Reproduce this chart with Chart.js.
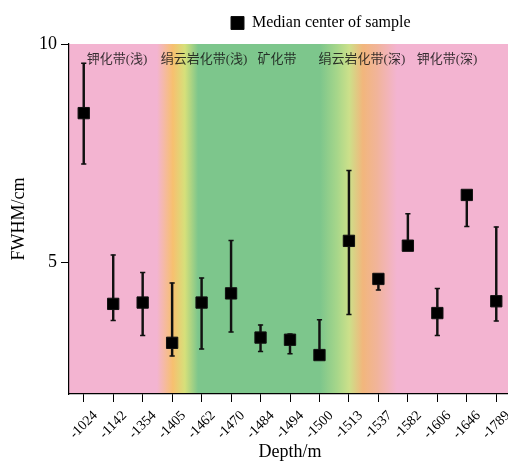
<!DOCTYPE html>
<html>
<head>
<meta charset="utf-8">
<script src="https://cdn.jsdelivr.net/npm/chart.js@4.4.0/dist/chart.umd.min.js"></script>
<style>
  html, body { margin: 0; padding: 0; overflow: hidden; background: #fff; width: 508px; height: 463px; }
  #wrap { width: 511px; height: 463px; }
</style>
</head>
<body>
<div id="wrap"><canvas id="c" width="511" height="463"></canvas></div>
<script>
// Sample depths (m) along the drill hole
const depths = ['-1024', '-1142', '-1354', '-1405', '-1462', '-1470', '-1484', '-1494',
                '-1500', '-1513', '-1537', '-1582', '-1606', '-1646', '-1789'];
// FWHM (cm): median of each sample and the spread around it
const medianFWHM = [8.42, 4.06, 4.09, 3.17, 4.09, 4.30, 3.29, 3.24, 2.89, 5.50, 4.63, 5.39, 3.85, 6.55, 4.12];
const lowerFWHM  = [7.26, 3.68, 3.34, 2.87, 3.03, 3.42, 2.97, 2.92, 2.89, 3.82, 4.38, 5.39, 3.34, 5.83, 3.67];
const upperFWHM  = [9.56, 5.18, 4.78, 4.54, 4.65, 5.51, 3.58, 3.37, 3.70, 7.11, 4.63, 6.12, 4.41, 6.55, 5.82];
const yTicks = [5, 10];
// Alteration zones, shallow to deep
const zoneNames = ['钾化带(浅)', '绢云岩化带(浅)', '矿化带', '绢云岩化带(深)', '钾化带(深)'];

const SERIF = '"Liberation Serif", "Times New Roman", serif';

// Coloured alteration zones behind the plot
const zoneBackground = {
  id: 'zoneBackground',
  beforeDraw(chart) {
    const { ctx, chartArea: a } = chart;
    const g = ctx.createLinearGradient(a.left, 0, a.right, 0);
    const pink = '#f3b4d1', green = '#7dc68c';
    g.addColorStop(0, pink);
    g.addColorStop(0.199, pink);
    g.addColorStop(0.235, '#f7c06f');
    g.addColorStop(0.262, '#d6e07a');
    g.addColorStop(0.292, green);
    g.addColorStop(0.568, green);
    g.addColorStop(0.606, '#a6d68a');
    g.addColorStop(0.634, '#cce08a');
    g.addColorStop(0.665, '#f2b67c');
    g.addColorStop(0.697, '#f1b49a');
    g.addColorStop(0.742, pink);
    g.addColorStop(1, pink);
    ctx.save();
    ctx.fillStyle = g;
    ctx.fillRect(a.left, a.top, a.right - a.left, a.bottom - a.top);
    ctx.restore();
  }
};

// Zone names along the top of the plot, anchored on the depth axis
const zoneLabels = {
  id: 'zoneLabels',
  afterDatasetsDraw(chart) {
    const { ctx, chartArea: a, scales: { x } } = chart;
    const anchors = [1.13, 4.08, 6.56, 9.44, 12.33];
    ctx.save();
    ctx.font = '13px "Liberation Serif", "Noto Sans CJK SC", serif';
    ctx.fillStyle = 'rgba(20,20,20,0.85)';
    ctx.textAlign = 'center';
    ctx.textBaseline = 'middle';
    zoneNames.forEach((name, i) => {
      ctx.fillText(name, x.getPixelForValue(anchors[i]), a.top + 16);
    });
    ctx.restore();
  }
};

// Fixed legend band height and legend placement
const legendPlacement = {
  id: 'legendPlacement',
  beforeInit(chart) {
    const lg = chart.legend;
    const fit = lg.fit;
    lg.fit = function () { fit.call(this); this.height = 44; };
  },
  afterLayout(chart) {
    const lg = chart.legend;
    const w = lg.right - lg.left;
    lg.left = 216;
    lg.right = lg.left + w;
  }
};

new Chart(document.getElementById('c'), {
  type: 'bar',
  data: {
    labels: depths,
    datasets: [
      {
        type: 'line',
        label: 'Median center of sample',
        data: medianFWHM,
        showLine: false,
        pointStyle: 'rect',
        pointRadius: 8,
        pointHoverRadius: 8,
        backgroundColor: '#000',
        borderColor: '#111',
        borderWidth: 1,
        order: 0
      },
      {
        type: 'bar',
        label: 'range',
        data: depths.map((_, i) => [lowerFWHM[i], upperFWHM[i]]),
        backgroundColor: '#111',
        borderWidth: 0,
        barThickness: 1.8,
        order: 2
      },
      {
        type: 'line',
        label: 'lower',
        data: lowerFWHM,
        showLine: false,
        pointStyle: 'line',
        pointRadius: 2.6,
        borderColor: '#111',
        borderWidth: 1.5,
        order: 1
      },
      {
        type: 'line',
        label: 'upper',
        data: upperFWHM,
        showLine: false,
        pointStyle: 'line',
        pointRadius: 2.6,
        borderColor: '#111',
        borderWidth: 1.5,
        order: 1
      }
    ]
  },
  options: {
    responsive: false,
    devicePixelRatio: 1,
    animation: false,
    layout: { autoPadding: false, padding: { left: 0, right: 0, top: 0, bottom: 0 } },
    plugins: {
      tooltip: { enabled: false },
      legend: {
        position: 'top',
        align: 'start',
        labels: {
          filter: item => item.datasetIndex === 0,
          boxWidth: 13,
          boxHeight: 13,
          padding: 15,
          color: '#000',
          font: { family: SERIF, size: 16 }
        }
      }
    },
    scales: {
      x: {
        offset: true,
        grid: { display: true, drawOnChartArea: false, drawTicks: true, tickLength: 8, color: '#000', offset: false },
        border: { display: true, color: '#000', width: 1.2 },
        ticks: {
          autoSkip: false, maxRotation: 45, minRotation: 45, padding: 17,
          color: '#000', font: { family: SERIF, size: 14 }
        },
        title: {
          display: true, text: 'Depth/m', color: '#000',
          font: { family: SERIF, size: 18 }, padding: { top: 0, bottom: 0 }
        },
        afterFit(scale) {
          scale.height = 69;
          scale.paddingRight = 0;
          // slanted depth labels sit centred under their ticks
          scale._getXAxisLabelAlignment = () => 'center';
        }
      },
      y: {
        min: 2,
        max: 10,
        afterBuildTicks(scale) { scale.ticks = yTicks.map(v => ({ value: v })); },
        grid: { display: true, drawOnChartArea: false, drawTicks: true, tickLength: 8, color: '#000' },
        border: { display: true, color: '#000', width: 1.2 },
        ticks: { color: '#000', padding: 4, font: { family: SERIF, size: 18 } },
        title: {
          display: true, text: 'FWHM/cm', color: '#000',
          font: { family: SERIF, size: 18 }, padding: { top: 8, bottom: 0 }
        },
        afterFit(scale) { scale.width = 69; }
      }
    }
  },
  plugins: [zoneBackground, zoneLabels, legendPlacement]
});
</script>
</body>
</html>
